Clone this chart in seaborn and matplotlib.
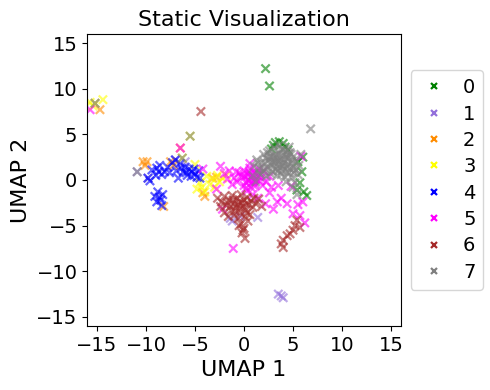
import pandas as pd
import seaborn as sns
import matplotlib
matplotlib.use('Agg')
import matplotlib.pyplot as plt

# UMAP coordinates per cluster
c0_x = [2.2, 2.6, 3.2, 4.0, 4.2, 6.0, 5.9, 5.7, 6.4, 5.4, 3.0, 4.5, 5.5, 6.1, 2.8, 3.6]
c0_y = [12.2, 10.3, 4.1, 4.0, 3.6, 2.5, 0.9, -0.3, -1.7, -1.1, 3.8, 3.3, 2.0, -1.3, 3.4, 4.2]

c1_x = [3.5, 4.0, 3.8, -1.4, 1.4, -1.2, -0.4, -10.9, -9.8, -7.0, -15.2, -6.0]
c1_y = [-12.5, -12.9, -12.7, -4.2, -4.1, -4.5, -4.0, 0.9, 0.2, 2.2, 8.4, 2.0]

c2_x = [-10.3, -9.9, -10.1, -8.2, -7.2, -4.2, -3.2, -14.7, -6.5, -4.0, -2.8, -7.5]
c2_y = [2.0, 2.0, 1.6, -2.9, 1.6, -1.4, 0.2, 7.7, 3.5, -1.8, 0.3, 2.0]

c3_x = [-15.7, -14.4, -15.4, -15.2, -5.0, -3.3, -2.2, -4.3, -4.0, -3.8, -2.7,
        -4.5, -3.5, -4.8, -2.5, -5.5, -6.3, -3.0, -1.8]
c3_y = [8.5, 8.8, 8.1, 8.4, 1.7, 0.2, 0.2, -0.8, -1.3, 0.4, 0.5,
        -0.3, -0.5, -1.0, -0.2, 4.8, 2.4, -0.8, 0.5]

c4_x = [-9.4, -8.9, -8.4, -8.1, -9.0, -8.6, -9.8, -7.8, -8.8, -8.6, -8.9, -8.4,
        -8.3, -9.1, -7.0, -6.7, -6.0, -5.3, -4.8, -4.5, -6.5, -5.6, -5.0, -6.2,
        -5.8, -4.6, -7.3, -6.9, -9.6, -7.6, -8.7, -8.5, -5.4, -5.1, -6.4, -5.9]
c4_y = [1.1, 1.3, 0.6, 0.9, 0.5, 1.6, 0.2, 1.4, -1.3, -1.9, -2.4, -2.8,
        -1.6, -1.8, 2.2, 0.2, 1.4, 0.9, 0.3, 0.2, 1.8, 1.2, 0.6, 0.9,
        0.5, 1.0, 1.9, 1.0, -0.1, 0.8, 0.9, -2.2, 0.4, 1.2, 1.3, 0.8]

c5_x = [-0.5, -0.2, 0.0, 0.2, 0.4, 0.6, 0.7, 0.9, 1.0, 1.1, 1.3, 1.5, 1.6, 1.8,
        0.3, 0.5, 0.8, 1.2, -1.0, -1.5, -2.0, -1.2, 0.0, 0.6, 1.9, 2.3, 2.6,
        2.8, 2.0, 0.9, 3.4, 4.4, 6.0, 3.0, 5.8, 6.2, -1.1, -2.2, -4.2, -2.8,
        -1.7, -15.7, -6.5, 1.4, 2.2, 5.0, 5.7, -2.4, 4.8, 3.5,
        0.1, 0.4, 0.7, 1.0, 1.3, 0.2, 0.6, 1.1, -0.3, 0.8, 1.5, 0.5, -0.7, 1.7,
        3.8, 2.6, 5.5, -0.8]
c5_y = [0.8, 0.3, 1.0, -0.3, 0.6, 1.3, -0.8, 0.2, 0.9, -0.4, 0.5, 1.2, -0.1, 0.7,
        -1.2, -0.1, 0.5, 0.1, 0.2, 1.0, 0.7, -0.5, -0.6, 1.8, -0.6, -0.2, 0.4,
        -0.8, 1.0, -1.6, -2.4, -2.6, -2.4, -3.2, 2.6, -4.7, -7.5, -3.2, 1.2, -1.0,
        0.1, 7.7, 3.5, -2.0, -2.6, -3.7, -3.9, 1.5, -0.7, -0.6,
        0.4, 0.0, 0.3, -0.1, 0.8, -0.9, 0.7, -0.7, 0.5, -0.3, 0.4, 0.9, -0.2, 0.2,
        -2.0, -1.4, -2.7, 0.9]

c6_x = [-2.7, -2.3, -2.0, -1.8, -1.5, -1.3, -1.2, -1.0, -0.8, -0.7, -0.5, -0.4,
        -0.3, -0.1, 0.0, 0.2, 0.3, 0.5, 0.7, 0.9, 1.2, 1.5, 1.8, -0.6, -0.3,
        0.0, -0.2, 0.1, -0.5, 0.4, -1.6, -2.0, -1.0, -1.4, 0.6, 4.0, 4.4, 5.0,
        5.4, 5.7, 4.0, 4.7, 3.8, 5.2, -4.4,
        -1.1, -0.6, -0.2, 0.2, -0.9, -0.4, 0.1, -1.7, -2.4, 1.0, 0.3, -0.1]
c6_y = [-2.0, -2.4, -1.8, -2.8, -2.2, -3.3, -1.7, -2.6, -3.0, -2.0, -2.4, -3.6,
        -1.6, -2.9, -2.2, -3.3, -1.9, -2.7, -2.3, -3.0, -2.6, -2.1, -2.9, -4.2, -4.8,
        -5.3, -5.8, -6.4, -5.0, -4.5, -4.0, -3.6, -3.9, -2.9, -3.8, -6.6, -6.1, -5.5,
        -4.4, -5.2, -7.4, -5.9, -7.0, -5.0, 7.5,
        -2.2, -2.7, -2.5, -2.6, -3.4, -3.1, -4.0, -2.5, -2.9, -2.0, -3.6, -5.5]

c7_x = [1.0, 1.3, 1.5, 1.8, 2.0, 2.1, 2.3, 2.5, 2.6, 2.8, 2.9, 3.0, 3.1, 3.2,
        3.3, 3.4, 3.5, 3.6, 3.7, 3.8, 3.9, 4.0, 4.1, 4.2, 4.3, 4.4, 4.5, 4.6,
        4.7, 4.8, 4.9, 5.0, 5.1, 5.2, 5.3, 5.5, 5.6, 2.2, 2.7, 3.4, 3.0, 4.0,
        4.4, 3.8, 1.6, 0.9, 5.8, 2.4, 3.6, 4.6, 5.0, 4.3, 6.8, -15.2, -5.5,
        -10.9, -6.3, 1.2, 5.4,
        2.0, 2.4, 2.9, 3.3, 3.7, 4.1, 4.5, 4.9, 5.3, 2.6, 3.1, 3.5, 3.9, 4.3,
        4.7, 5.1, 2.2, 2.7, 3.2, 3.6, 4.0, 4.4, 4.8, 1.7, 1.4]
c7_y = [1.5, 2.2, 0.8, 1.9, 2.8, 1.2, 0.4, 2.2, 3.2, 1.6, 0.9, 2.6, 3.5, 2.0,
        1.2, 0.5, 2.9, 1.7, 3.3, 2.3, 1.0, 2.7, 1.9, 0.3, 3.1, 1.4, 2.4, 0.8,
        3.0, 1.8, 0.2, 2.5, 1.3, -0.3, 2.0, 0.6, 1.6, 1.8, 2.6, 2.4, 1.4, 1.5,
        2.8, 0.6, 1.3, 0.5, 2.8, 3.0, 3.8, 3.6, -0.8, -0.2, 5.6, 8.4, 4.8,
        0.9, 2.4, -0.2, -1.6,
        1.0, 1.4, 2.0, 2.7, 1.3, 2.2, 1.7, 2.1, 1.1, 2.5, 1.8, 1.0, 1.6, 2.5,
        1.2, 0.8, 2.4, 0.7, 2.4, 2.1, 3.3, 0.9, 2.8, 0.6, 1.9]

clusters = ['0', '1', '2', '3', '4', '5', '6', '7']
colors = ['green', 'mediumpurple', 'darkorange', 'yellow', 'blue', 'magenta', 'brown', 'gray']
xs = [c0_x, c1_x, c2_x, c3_x, c4_x, c5_x, c6_x, c7_x]
ys = [c0_y, c1_y, c2_y, c3_y, c4_y, c5_y, c6_y, c7_y]

frames = []
for lab, x, y in zip(clusters, xs, ys):
    frames.append(pd.DataFrame({'UMAP 1': x, 'UMAP 2': y, 'cluster': lab}))
df = pd.concat(frames, ignore_index=True)

fig = plt.figure(figsize=(4.9, 3.9), dpi=100)
ax = fig.add_axes([0.178, 0.164, 0.640, 0.749])

sns.scatterplot(data=df, x='UMAP 1', y='UMAP 2', hue='cluster', hue_order=clusters,
                palette=dict(zip(clusters, colors)), marker='x', s=36,
                linewidth=1.6, alpha=0.6, ax=ax)

ax.set_xlim(-16, 16)
ax.set_ylim(-16, 16)
ax.set_xticks([-15, -10, -5, 0, 5, 10, 15])
ax.set_yticks([-15, -10, -5, 0, 5, 10, 15])
ax.tick_params(labelsize=14)
ax.set_xlabel('UMAP 1', fontsize=16)
ax.set_ylabel('UMAP 2', fontsize=16)
ax.set_title('Static Visualization', fontsize=16)

leg = ax.legend(loc='center left', bbox_to_anchor=(1.0, 0.5), fontsize=14,
                markerscale=0.8, handlelength=1.6, handletextpad=0.7,
                labelspacing=0.38)
for h in leg.legend_handles:
    h.set_alpha(1)

fig.savefig('out.png', dpi=100)
